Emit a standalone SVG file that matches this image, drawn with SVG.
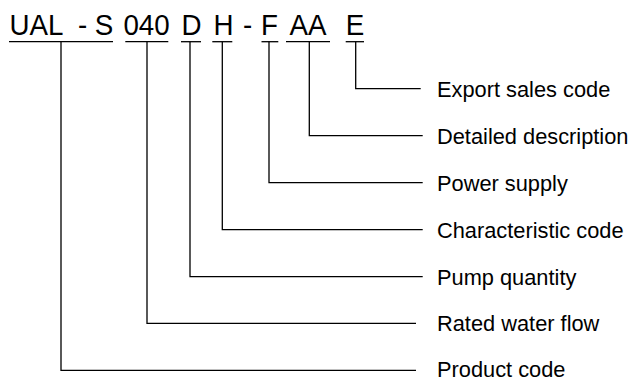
<svg xmlns="http://www.w3.org/2000/svg" width="632" height="380" viewBox="0 0 632 380">
<style>
.code{font-family:"Liberation Sans",Arial,sans-serif;font-size:29.5px;fill:#000;text-anchor:middle}
.lbl{font-family:"Liberation Sans",Arial,sans-serif;font-size:21.8px;fill:#000}
.ln{stroke:#000;stroke-width:1.3;fill:none}
</style>
<rect width="632" height="380" fill="#fff"/>
<g id="code" transform="scale(0.94 1)">
<text class="code" x="38.8" y="35">UAL</text>
<text class="code" x="87.8" y="35">-</text>
<text class="code" x="110.6" y="35">S</text>
<text class="code" x="155.9" y="35">040</text>
<text class="code" x="203.7" y="35">D</text>
<text class="code" x="237.8" y="35">H</text>
<text class="code" x="263.3" y="35">-</text>
<text class="code" x="286.7" y="35">F</text>
<text class="code" x="327.7" y="35">AA</text>
<text class="code" x="377.7" y="35">E</text>
</g>
<g id="underlines">
<line class="ln" x1="9" y1="41.7" x2="113" y2="41.7"/>
<line class="ln" x1="125.3" y1="41.7" x2="168.3" y2="41.7"/>
<line class="ln" x1="181" y1="41.7" x2="201" y2="41.7"/>
<line class="ln" x1="212.3" y1="41.7" x2="232.3" y2="41.7"/>
<line class="ln" x1="261.5" y1="41.7" x2="278.3" y2="41.7"/>
<line class="ln" x1="286" y1="41.7" x2="330" y2="41.7"/>
<line class="ln" x1="345.7" y1="41.7" x2="364" y2="41.7"/>
</g>
<g id="connectors">
<polyline class="ln" points="355.7,41.7 355.7,88.7 420.7,88.7"/>
<polyline class="ln" points="309.3,41.7 309.3,135.7 422.7,135.7"/>
<polyline class="ln" points="269,41.7 269,182.7 422.7,182.7"/>
<polyline class="ln" points="222.3,41.7 222.3,229.7 422.7,229.7"/>
<polyline class="ln" points="190,41.7 190,276.7 422.7,276.7"/>
<polyline class="ln" points="147,41.7 147,323.3 416,323.3"/>
<polyline class="ln" points="61,41.7 61,370.3 416,370.3"/>
</g>
<g id="label-export"><text class="lbl" x="437" y="96.5">Export sales code</text></g>
<g id="label-detailed"><text class="lbl" x="437" y="143.5">Detailed description</text></g>
<g id="label-power"><text class="lbl" x="437" y="190.5">Power supply</text></g>
<g id="label-characteristic"><text class="lbl" x="437" y="237.5">Characteristic code</text></g>
<g id="label-pump"><text class="lbl" x="437" y="284.5">Pump quantity</text></g>
<g id="label-rated"><text class="lbl" x="437" y="331">Rated water flow</text></g>
<g id="label-product"><text class="lbl" x="437" y="376.5">Product code</text></g>
</svg>
